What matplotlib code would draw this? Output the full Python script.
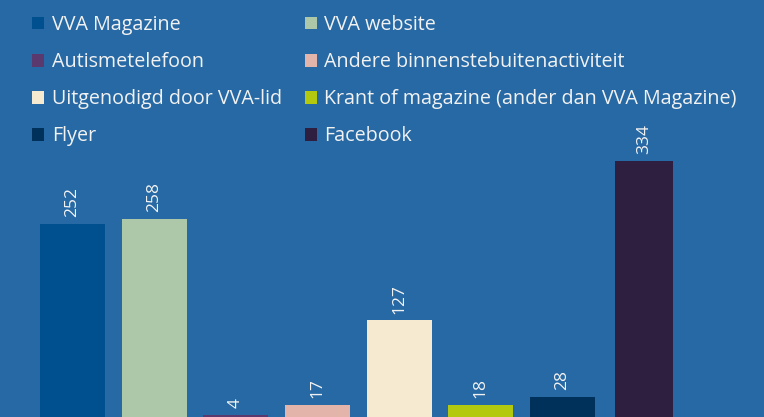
import matplotlib.pyplot as plt
from matplotlib.patches import Patch
import numpy as np

# Data
categories = ['VVA Magazine', 'VVA website', 'Autismetelefoon',
              'Andere binnenstebuitenactiviteit', 'Uitgenodigd door VVA-lid',
              'Krant of magazine (ander dan VVA Magazine)', 'Flyer', 'Facebook']
values = [252, 258, 4, 17, 127, 18, 28, 334]
colors = ['#00508F', '#ADC8A9', '#5A3A6E', '#E3B4A9',
          '#F6EAD1', '#B3C90F', '#00315A', '#2E1F40']

bg = '#2769A4'
plt.rcParams['font.family'] = ['Open Sans', 'DejaVu Sans']

fig = plt.figure(figsize=(7.64, 4.17), dpi=100, facecolor=bg)
ax = fig.add_axes([0, 0, 1, 1], facecolor=bg)

x = np.arange(len(categories))
widths = [0.796] * 7 + [0.71]
bars = ax.bar(x, values, width=widths, color=colors)

for b, v in zip(bars, values):
    ax.annotate(str(v), (b.get_x() + b.get_width() / 2, v),
                xytext=(0, 5), textcoords='offset points',
                rotation=90, ha='center', va='bottom',
                color='#F2F2F2', fontsize=12.5)

ax.set_xlim(-0.888, 8.47)
ax.set_ylim(1.94, 542.1)
ax.axis('off')

# legend filled row by row: reorder for column-major layout
order = [0, 2, 4, 6, 1, 3, 5, 7]
handles = [Patch(facecolor=colors[i], label=categories[i]) for i in order]
ax.legend(handles=handles, ncol=2, loc='upper left',
          bbox_to_anchor=(32 / 764, 1 - 15 / 417), frameon=False,
          fontsize=14.2, labelcolor='#F2F2F2', borderpad=0, borderaxespad=0,
          handlelength=0.62, handleheight=0.62, handletextpad=0.38,
          labelspacing=0.87, columnspacing=1.15)

plt.savefig('out.png', dpi=100, facecolor=bg)
